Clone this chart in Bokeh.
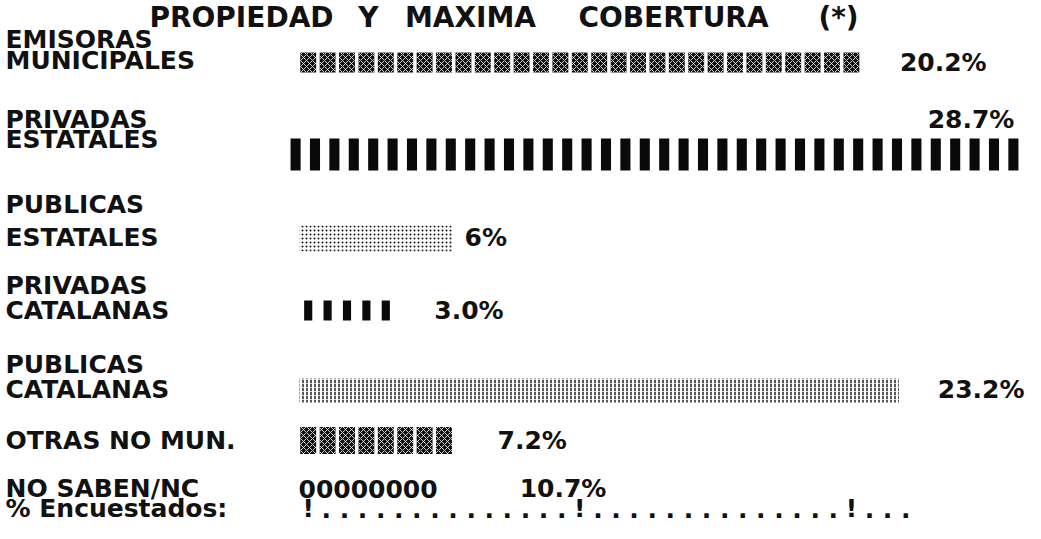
from bokeh.plotting import figure
from bokeh.models import Range1d, ColumnDataSource
from bokeh.core.properties import value
from bokeh.embed import file_html
from bokeh.resources import INLINE

# ---------------- data ----------------
title_words = ["PROPIEDAD", "Y", "MAXIMA", "COBERTURA", "(*)"]
categories = [
    ["EMISORAS", "MUNICIPALES"],
    ["PRIVADAS", "ESTATALES"],
    ["PUBLICAS", "ESTATALES"],
    ["PRIVADAS", "CATALANAS"],
    ["PUBLICAS", "CATALANAS"],
    ["OTRAS NO MUN."],
    ["NO SABEN/NC"],
]
pct_labels = ["20.2%", "28.7%", "6%", "3.0%", "23.2%", "7.2%", "10.7%"]
bar_cells = [29, 38, 8, 5, 31, 8, 8]          # bar length in printed character cells
scale_marks = [0, 14, 28]                      # "!" marks on the % scale (cells)
scale_end = 31
axis_label = "% Encuestados:"

# ---------------- layout / style ----------------
W, H = 1025, 523
PITCH = 19.4          # px per character cell
BAR_X = 306           # page x where the bars start (cell 0)
LABEL_X = 13          # page x of the category labels
FONT = value("DejaVu Sans")
FS = "25px"
DOTS_PER_GAP = 14


def col(px):
    return (px - BAR_X) / PITCH


title_cx = [249, 376, 478, 681, 846]
title_y = 25
label_y = [[47, 68], [127, 147], [212, 245], [293, 318], [372, 397], [448], [496]]
bar_y = [70, 162, 246, 318, 398, 448, 496]
pct_y = [70, 127, 245, 318, 397, 448, 496]
pct_gap = [2.0, -1.1, 0.56, 2.0, 1.95, 2.26, 3.4]
axis_y = 516

x0 = col(8)
p = figure(width=W, height=H, output_backend="svg", toolbar_location=None,
           x_range=Range1d(x0, x0 + W / PITCH), y_range=Range1d(8 + H, 8),
           min_border=0)
p.axis.visible = False
p.grid.visible = False
p.outline_line_color = None
p.background_fill_color = "white"


def txt(xs, ys, texts, align="left", size=FS):
    src = ColumnDataSource(dict(x=xs, y=ys, t=texts))
    p.text(x="x", y="y", text="t", source=src, text_font=FONT, text_font_style="bold",
           text_font_size=size, text_baseline="middle", text_align=align, text_color="#111111")


# title
txt([col(c) for c in title_cx], [title_y] * len(title_words), title_words,
    align="center", size="28px")

# category labels
lx, ly, lt = [], [], []
for lines, ys in zip(categories, label_y):
    for t, y in zip(lines, ys):
        lx.append(col(LABEL_X)); ly.append(y); lt.append(t)
txt(lx, ly, lt)

# bars
for r, n in enumerate(bar_cells):
    y = bar_y[r]
    cx = [i + 0.5 for i in range(n)]
    if r in (0, 5):  # dense "flower" blocks
        h = 20 if r == 0 else 27
        p.rect(x=cx, y=[y] * n, width=0.82, height=h, fill_color="#111111", line_color=None,
               hatch_pattern="x", hatch_color="white", hatch_scale=6, hatch_weight=0.8)
    elif r == 1:     # tall solid strokes
        p.rect(x=[c - 0.65 for c in cx], y=[y] * n, width=0.52, height=32,
               fill_color="#0a0a0a", line_color=None)
    elif r == 3:     # narrow solid strokes
        p.rect(x=cx, y=[y] * n, width=0.42, height=20, fill_color="#0a0a0a", line_color=None)
    elif r == 2:     # fine dot texture
        p.hbar(y=[y], left=[0.05], right=[n - 0.05], height=26,
               fill_color=None, line_color=None, hatch_pattern=".", hatch_color="#111111",
               hatch_scale=4, hatch_weight=1.6)
    elif r == 4:     # vertical dash texture
        p.hbar(y=[y], left=[0.05], right=[n - 0.05], height=24,
               fill_color=None, line_color=None, hatch_pattern=":", hatch_color="#111111",
               hatch_scale=4, hatch_weight=1.4)
    elif r == 6:     # bar printed with zeros
        txt([0], [y], ["0" * n])

# percentage labels
for r, n in enumerate(bar_cells):
    if r == 1:
        txt([n + pct_gap[r]], [pct_y[r]], [pct_labels[r]], align="right")
    else:
        txt([n + pct_gap[r]], [pct_y[r]], [pct_labels[r]])

# percentage scale row
txt([col(LABEL_X)], [axis_y], [axis_label])
marks = [m + 0.5 for m in scale_marks]
step = (scale_marks[1] - scale_marks[0]) / (DOTS_PER_GAP + 1)
dots = []
for a, b in zip(scale_marks, scale_marks[1:] + [scale_end]):
    k = 1
    while a + k * step < b - 1e-6 and k <= DOTS_PER_GAP:
        dots.append(a + k * step + 0.5)
        k += 1
txt(marks, [axis_y] * len(marks), ["!"] * len(marks), align="center")
txt(dots, [axis_y] * len(dots), ["."] * len(dots), align="center")

open("out.html", "w").write(file_html(p, INLINE))
